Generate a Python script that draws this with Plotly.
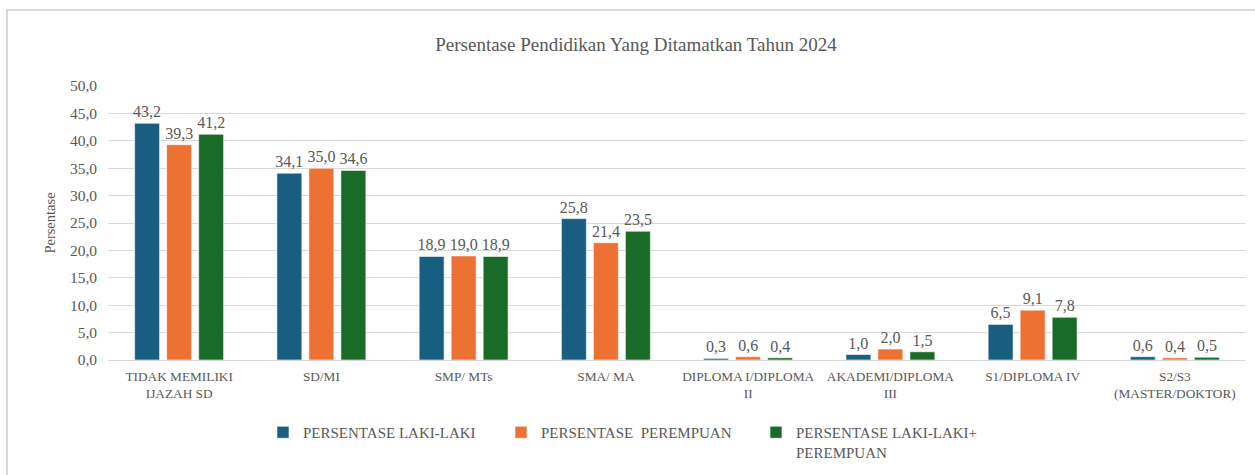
import plotly.graph_objects as go

categories = ["TIDAK MEMILIKI<br>IJAZAH SD", "SD/MI", "SMP/ MTs", "SMA/ MA",
              "DIPLOMA I/DIPLOMA<br>II", "AKADEMI/DIPLOMA<br>III", "S1/DIPLOMA IV",
              "S2/S3<br>(MASTER/DOKTOR)"]
laki = [43.2, 34.1, 18.9, 25.8, 0.3, 1.0, 6.5, 0.6]
perempuan = [39.3, 35.0, 19.0, 21.4, 0.6, 2.0, 9.1, 0.4]
total = [41.2, 34.6, 18.9, 23.5, 0.4, 1.5, 7.8, 0.5]
series_names = ["PERSENTASE LAKI-LAKI", "PERSENTASE  PEREMPUAN", "PERSENTASE LAKI-LAKI+<br>PEREMPUAN"]
y_ticks = [0, 5, 10, 15, 20, 25, 30, 35, 40, 45, 50]

colors = ["#185E80", "#EC7132", "#1B6B28"]
FONT = "Liberation Serif, Times New Roman, serif"
GRAY = "#595959"
W, H = 1255, 475
L, R, T, B = 108, 9, 86, 115

fig = go.Figure()
legends = ["legend", "legend2", "legend3"]
for vals, name, col, lg in zip([laki, perempuan, total], series_names, colors, legends):
    fig.add_trace(go.Bar(
        x=categories, y=vals, name=name, marker_color=col,
        marker_line_color="white", marker_line_width=0.6,
        text=[f"{v:.1f}".replace(".", ",") for v in vals],
        textposition="outside", cliponaxis=False, constraintext="none",
        textfont=dict(family=FONT, size=16, color=GRAY),
        legend=lg,
    ))

leg_common = dict(orientation="h", xref="container", yref="container",
                  yanchor="top", xanchor="left", valign="top",
                  font=dict(family=FONT, size=15, color=GRAY),
                  bgcolor="rgba(0,0,0,0)", itemwidth=30)
legend_text_x = [305, 543, 798]
lay_legends = {}
for lg, tx in zip(legends, legend_text_x):
    lay_legends[lg] = dict(leg_common, x=(tx - 42) / W, y=1 - 416 / H)

pw = W - L - R
ph = H - T - B
fig.update_layout(
    width=W, height=H,
    margin=dict(l=L, r=R, t=T, b=B),
    paper_bgcolor="white", plot_bgcolor="white",
    separators=",.",
    barmode="group", bargap=0.325, bargroupgap=0.22,
    title=dict(text="Persentase Pendidikan Yang Ditamatkan Tahun 2024",
               x=636 / W, xref="container", xanchor="center",
               y=1 - 44 / H, yref="container", yanchor="middle",
               font=dict(family=FONT, size=19, color=GRAY)),
    font=dict(family=FONT, color=GRAY),
    xaxis=dict(showline=True, linecolor="#D9D9D9", linewidth=1, ticks="",
               ticklabelstandoff=4,
               tickfont=dict(family=FONT, size=13.3, color=GRAY), showgrid=False),
    yaxis=dict(range=[0, 50], tickvals=y_ticks, tickformat=".1f",
               gridcolor="#D9D9D9", gridwidth=1, zeroline=False, showline=False,
               ticks="", ticklabelstandoff=10,
               tickfont=dict(family=FONT, size=15.5, color=GRAY),
               title=dict(text="Persentase", standoff=10,
                          font=dict(family=FONT, size=14.5, color=GRAY))),
    showlegend=True,
    **lay_legends,
)

# outer chart border (only left and top edges fall inside the image)
fig.add_shape(type="rect", xref="paper", yref="paper",
              x0=(7 - L) / pw, x1=(1262 - L) / pw,
              y0=(H - B - 485) / ph, y1=(H - B - 10) / ph,
              line=dict(color="#D9D9D9", width=2), fillcolor="rgba(0,0,0,0)", layer="below")

fig.write_html("out.html", config={"displayModeBar": False},
               post_script="document.body.style.margin='0px';document.body.style.overflow='hidden';")
